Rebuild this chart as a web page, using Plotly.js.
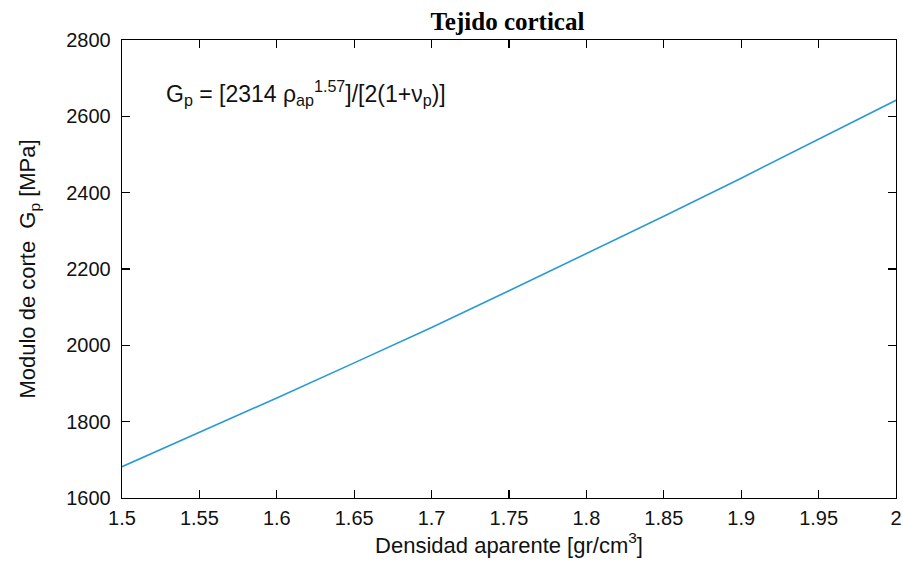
<!DOCTYPE html>
<html>
<head>
<meta charset="utf-8">
<script src="https://cdn.plot.ly/plotly-3.0.1.min.js"></script>
<style>
  html, body { margin: 0; padding: 0; background: #fff; }
  #chart { width: 903px; height: 567px; }
</style>
</head>
<body>
<div id="chart"></div>
<script>
// Apparent density of cortical tissue [gr/cm^3]
const densidad = [1.5, 1.55, 1.6, 1.65, 1.7, 1.75, 1.8, 1.85, 1.9, 1.95, 2.0];
// Shear modulus Gp [MPa]
const moduloCorte = [1682, 1771, 1862, 1954, 2047, 2143, 2240, 2338, 2438, 2540, 2642];
// Axis ticks
const xTicks = [1.5, 1.55, 1.6, 1.65, 1.7, 1.75, 1.8, 1.85, 1.9, 1.95, 2];
const xTickText = ['1.5', '1.55', '1.6', '1.65', '1.7', '1.75', '1.8', '1.85', '1.9', '1.95', '2'];
const yTicks = [1600, 1800, 2000, 2200, 2400, 2600, 2800];

const sans = 'Liberation Sans, Arial, sans-serif';
const axisFont = { family: sans, size: 20, color: '#111' };

const trace = {
  x: densidad,
  y: moduloCorte,
  type: 'scatter',
  mode: 'lines',
  line: { color: '#2a9ad6', width: 1.6 },
  hoverinfo: 'x+y'
};

const axisCommon = {
  showline: true,
  linecolor: '#000',
  linewidth: 1.3,
  mirror: 'ticks',
  ticks: 'inside',
  ticklen: 8,
  tickwidth: 1.3,
  tickcolor: '#000',
  showgrid: false,
  zeroline: false,
  tickfont: axisFont
};

const layout = {
  width: 903,
  height: 567,
  margin: { l: 122, r: 7, t: 40, b: 69 },
  paper_bgcolor: '#fff',
  plot_bgcolor: '#fff',
  showlegend: false,
  title: {
    text: '<b>Tejido cortical</b>',
    font: { family: 'Liberation Serif, Times New Roman, serif', size: 25, color: '#000' },
    xref: 'paper', x: 0.498, xanchor: 'center',
    yref: 'container', y: 0.962, yanchor: 'middle'
  },
  xaxis: Object.assign({}, axisCommon, {
    range: [1.5, 2],
    tickvals: xTicks,
    ticktext: xTickText,
    ticklabelstandoff: 2,
    title: { text: 'Densidad aparente [gr/cm<sup>3</sup>]', font: { family: sans, size: 22, color: '#111' }, standoff: 4 }
  }),
  yaxis: Object.assign({}, axisCommon, {
    range: [1600, 2800],
    tickvals: yTicks,
    ticklabelstandoff: 6,
    title: { text: 'Modulo de corte  G<sub>p</sub> [MPa]', font: { family: sans, size: 22, color: '#111' }, standoff: 24 }
  }),
  annotations: [{
    xref: 'paper', yref: 'paper',
    x: 0.054, y: 0.885,
    xanchor: 'left', yanchor: 'middle',
    showarrow: false,
    text: 'G<sub>p</sub> = [2314 ρ<sub>ap</sub><sup>1.57</sup>]/[2(1+ν<sub>p</sub>)]',
    font: { family: sans, size: 23, color: '#111' }
  }]
};

Plotly.newPlot('chart', [trace], layout, { displayModeBar: false, staticPlot: true });
</script>
</body>
</html>
